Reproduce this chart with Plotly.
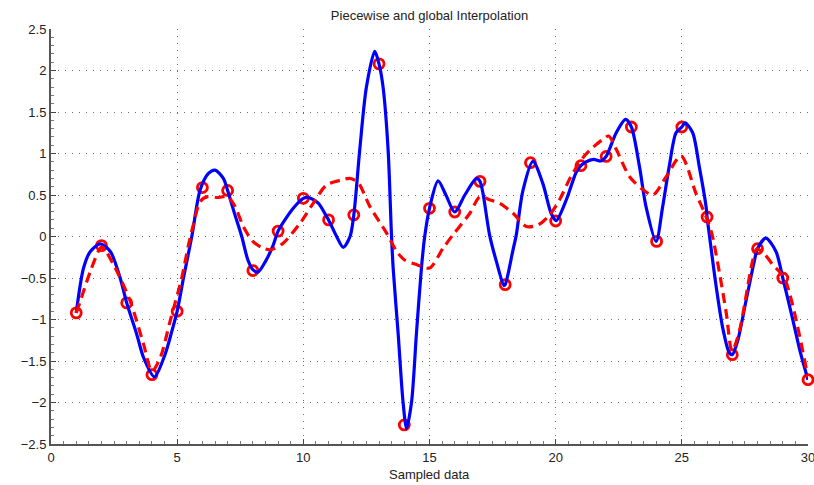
import plotly.graph_objects as go

# Sampled data (red circles)
x_samples = list(range(1, 31))
y_samples = [-0.92, -0.11, -0.80, -1.665, -0.90, 0.59, 0.555, -0.41, 0.065, 0.46,
             0.20, 0.26, 2.08, -2.27, 0.34, 0.295, 0.664, -0.58, 0.889, 0.187,
             0.853, 0.965, 1.319, -0.059, 1.319, 0.235, -1.424, -0.147, -0.50, -1.725]

# Global interpolation (blue solid)
blue_x = [1.0, 1.29, 1.56, 1.95, 2.35, 2.74, 3.0, 3.4, 3.67, 4.1, 4.52, 4.79, 5.0, 5.25,
          5.58, 5.91, 6.24, 6.5, 6.83, 7.0, 7.25, 7.56, 7.8, 8.0, 8.2, 8.5, 8.81, 9.0,
          9.6, 10.0, 10.2, 10.6, 10.92, 11.0, 11.32, 11.58, 11.85, 12.0, 12.24, 12.5,
          12.83, 13.0, 13.16, 13.36, 13.49, 13.56, 13.76, 13.95, 14.09, 14.29, 14.48,
          14.68, 14.81, 15.0, 15.34, 15.65, 16.0, 16.4, 16.86, 17.0, 17.12, 17.38,
          17.65, 17.95, 18.0, 18.31, 18.44, 18.7, 19.1, 19.49, 19.82, 20.02, 20.42,
          20.81, 21.0, 21.2, 21.5, 21.8, 22.0, 22.4, 22.77, 23.0, 23.32, 23.58, 23.98,
          24.24, 24.5, 24.77, 25.0, 25.13, 25.43, 25.69, 25.96, 26.0, 26.09, 26.35,
          26.62, 26.88, 27.0, 27.21, 27.54, 27.87, 28.0, 28.33, 28.73, 29.0, 29.38,
          29.7, 30.0]
blue_y = [-0.92, -0.38, -0.18, -0.09, -0.18, -0.50, -0.80, -1.18, -1.46, -1.69, -1.42,
          -1.14, -0.90, -0.50, 0.0, 0.56, 0.76, 0.80, 0.70, 0.555, 0.30, 0.0, -0.28,
          -0.40, -0.43, -0.30, -0.10, 0.065, 0.34, 0.46, 0.47, 0.40, 0.24, 0.20, 0.0,
          -0.13, 0.0, 0.26, 1.06, 1.80, 2.23, 2.08, 1.80, 1.04, 0.04, -0.38, -1.18,
          -1.99, -2.31, -1.99, -1.18, -0.38, 0.0, 0.34, 0.67, 0.50, 0.295, 0.50, 0.70,
          0.664, 0.52, 0.02, -0.30, -0.59, -0.58, -0.16, 0.02, 0.55, 0.905, 0.64,
          0.28, 0.19, 0.44, 0.77, 0.853, 0.90, 0.93, 0.91, 0.965, 1.25, 1.41, 1.319,
          0.845, 0.36, -0.06, 0.36, 0.845, 1.25, 1.319, 1.37, 1.25, 0.845, 0.36,
          0.235, 0.02, -0.58, -1.10, -1.40, -1.424, -1.26, -0.78, -0.30, -0.147,
          -0.02, -0.18, -0.50, -0.98, -1.40, -1.725]

# Piecewise interpolation (red dashed)
red_x = [1.0, 1.16, 1.56, 1.95, 2.05, 2.48, 3.14, 3.67, 4.0, 4.33, 4.72, 5.18, 5.45,
         5.64, 5.91, 6.2, 6.6, 7.0, 7.3, 7.62, 8.0, 8.4, 8.7, 9.2, 9.87, 10.39, 10.92,
         11.5, 11.84, 12.17, 12.64, 13.3, 13.7, 14.0, 14.5, 15.0, 15.54, 15.93, 16.6,
         17.0, 17.4, 17.78, 18.31, 18.84, 19.3, 19.76, 20.15, 20.6, 21.08, 21.5, 21.87,
         22.1, 22.4, 22.93, 23.4, 23.85, 24.38, 24.97, 25.56, 25.96, 26.2, 26.75,
         26.99, 27.28, 27.8, 27.97, 28.3, 28.6, 29.06, 30.0]
red_y = [-0.92, -0.78, -0.42, -0.14, -0.13, -0.34, -0.78, -1.30, -1.625, -1.46, -1.02,
         -0.50, -0.10, 0.14, 0.42, 0.48, 0.47, 0.48, 0.36, 0.12, -0.06, -0.14, -0.16,
         -0.08, 0.16, 0.40, 0.62, 0.68, 0.70, 0.65, 0.36, 0.04, -0.18, -0.28, -0.34,
         -0.38, -0.14, 0.02, 0.28, 0.48, 0.44, 0.40, 0.28, 0.12, 0.14, 0.26, 0.44,
         0.72, 0.95, 1.08, 1.17, 1.21, 1.05, 0.72, 0.58, 0.50, 0.72, 0.97, 0.52, 0.24,
         0.02, -0.90, -1.38, -1.14, -0.30, -0.15, -0.22, -0.34, -0.50, -1.70]

x_ticks = [0, 5, 10, 15, 20, 25, 30]
y_ticks = [-2.5, -2, -1.5, -1, -0.5, 0, 0.5, 1, 1.5, 2, 2.5]
y_tick_text = ["\u22122.5", "\u22122", "\u22121.5", "\u22121", "\u22120.5", "0",
               "0.5", "1", "1.5", "2", "2.5"]

fig = go.Figure()
fig.add_trace(go.Scatter(x=x_samples, y=y_samples, mode="markers",
                         marker=dict(symbol="circle-open", size=10, color="#ff0000",
                                     line=dict(width=2.8, color="#ff0000")),
                         cliponaxis=False, showlegend=False))
fig.add_trace(go.Scatter(x=blue_x, y=blue_y, mode="lines",
                         line=dict(color="#0000ff", width=3.2, shape="spline", smoothing=0.8),
                         cliponaxis=False, showlegend=False))
fig.add_trace(go.Scatter(x=red_x, y=red_y, mode="lines",
                         line=dict(color="#ff0000", width=3.2, dash="10px,6px",
                                   shape="spline", smoothing=0.8),
                         cliponaxis=False, showlegend=False))

font_family = "Liberation Sans, Arial, Helvetica, sans-serif"
axis_common = dict(
    showline=True, linecolor="#555555", linewidth=2,
    ticks="inside", ticklen=5, tickcolor="#444444", tickwidth=1,
    showgrid=True, gridcolor="rgba(60,60,60,0.75)", gridwidth=1, griddash="1px,6px",
    zeroline=False, mirror=False, ticklabeloverflow="allow", automargin=False,
    tickfont=dict(family=font_family, size=13, color="#222222"),
)

fig.update_xaxes(range=[0, 30], tickvals=x_ticks, ticktext=[str(v) for v in x_ticks],
                 minor=dict(ticks="inside", ticklen=3, dtick=0.5, tickcolor="#777777",
                            showgrid=False),
                 **axis_common)
fig.update_yaxes(range=[-2.5, 2.5], tickvals=y_ticks, ticktext=y_tick_text,
                 minor=dict(ticks="inside", ticklen=3, dtick=0.1, tickcolor="#777777",
                            showgrid=False),
                 **axis_common)

fig.update_layout(
    width=814, height=485,
    margin=dict(l=51, r=6, t=29, b=41, autoexpand=False),
    paper_bgcolor="white", plot_bgcolor="white",
    title=dict(text="Piecewise and global Interpolation", x=0.5, xref="paper",
               y=1 - 15 / 485, yref="container", xanchor="center", yanchor="middle",
               font=dict(family=font_family, size=13, color="#222222")),
    annotations=[dict(text="Sampled data", x=0.5, xref="paper", y=-0.074, yref="paper",
                      xanchor="center", yanchor="middle", showarrow=False,
                      font=dict(family=font_family, size=13, color="#222222"))],
)

fig.write_html("out.html")
